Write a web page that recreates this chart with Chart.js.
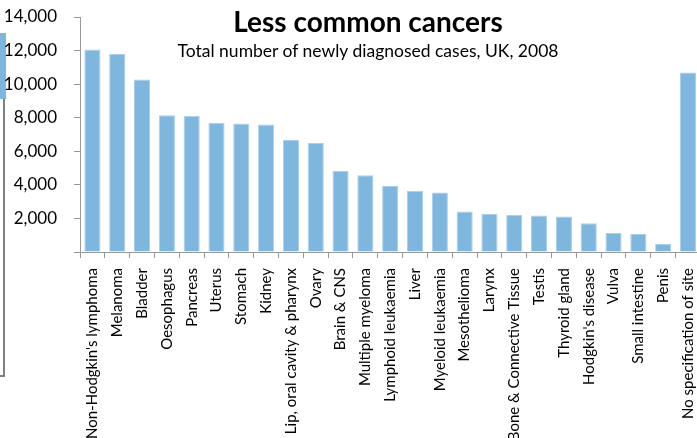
<!DOCTYPE html>
<html>
<head>
<meta charset="utf-8">
<script src="https://cdn.jsdelivr.net/npm/chart.js@4"></script>
<style>
  html, body { margin: 0; padding: 0; background: #fff; overflow: hidden; }
  body { width: 697px; height: 438px; position: relative; font-family: Lato, "Open Sans", sans-serif; }
  #chartCanvas { position: absolute; left: -20px; top: 0; }
  .title { position: absolute; left: 168px; width: 400px; text-align: center; color: #000; white-space: nowrap; }
  #t1 { top: 4px; font-size: 28px; font-weight: bold; }
  #t2 { top: 40px; font-size: 17.5px; }
  #legendEdge { position: absolute; left: 0; top: 33px; width: 6px; height: 66px; background: #7eb6dd; }
  #frameEdge { position: absolute; left: 3px; top: 99px; width: 2px; height: 278px; background: #808080; }
  #frameFoot { position: absolute; left: 0; top: 375px; width: 5px; height: 2px; background: #808080; }
</style>
</head>
<body>
<div id="legendEdge"></div>
<div id="frameEdge"></div>
<div id="frameFoot"></div>
<canvas id="chartCanvas" width="736" height="438"></canvas>
<div class="title" id="t1">Less common cancers</div>
<div class="title" id="t2">Total number of newly diagnosed cases, UK, 2008</div>
<script>
const sites = [
  "Non-Hodgkin's lymphoma", "Melanoma", "Bladder", "Oesophagus", "Pancreas",
  "Uterus", "Stomach", "Kidney", "Lip, oral cavity & pharynx", "Ovary",
  "Brain & CNS", "Multiple myeloma", "Lymphoid leukaemia", "Liver",
  "Myeloid leukaemia", "Mesothelioma", "Larynx", "Bone & Connective Tissue",
  "Testis", "Thyroid gland", "Hodgkin's disease", "Vulva", "Small intestine",
  "Penis", "No specification of site"
];
const cases = [
  12070, 11800, 10280, 8150, 8110,
  7700, 7660, 7600, 6670, 6490,
  4820, 4570, 3930, 3630,
  3550, 2420, 2260, 2200,
  2180, 2120, 1710, 1130, 1070,
  480, 10700
];
const yTicks = [0, 2000, 4000, 6000, 8000, 10000, 12000, 14000];

const ctx = document.getElementById('chartCanvas').getContext('2d');
new Chart(ctx, {
  type: 'bar',
  data: {
    labels: sites,
    datasets: [{
      data: cases,
      backgroundColor: '#7eb6dd',
      borderColor: '#a9cfea',
      borderWidth: { top: 1, left: 1, right: 1, bottom: 0 },
      categoryPercentage: 1,
      barPercentage: 0.65
    }]
  },
  options: {
    responsive: false,
    animation: false,
    devicePixelRatio: 1,
    layout: { padding: { top: 17, right: 1, left: 0, bottom: 0 } },
    plugins: { legend: { display: false }, tooltip: { enabled: false } },
    scales: {
      x: {
        offset: true,
        grid: { display: true, offset: true, drawOnChartArea: false, color: '#999', tickLength: 6 },
        border: { color: '#999', width: 1 },
        ticks: {
          autoSkip: false, minRotation: 90, maxRotation: 90, padding: 10,
          color: '#000', font: { family: 'Lato', size: 15 }
        },
        afterFit: s => { s.height = 186; s.paddingTop = 0; s.paddingBottom = 0; }
      },
      y: {
        min: 0, max: 14000,
        afterBuildTicks: s => { s.ticks = yTicks.map(v => ({ value: v })); },
        grid: { display: true, drawOnChartArea: false, color: '#999', tickLength: 6 },
        border: { color: '#999', width: 1 },
        ticks: {
          padding: 17, color: '#000', font: { family: 'Lato', size: 17 },
          callback: v => v === 0 ? '' : v.toLocaleString('en-GB')
        },
        afterFit: s => { s.width = 100; s.paddingTop = 0; s.paddingBottom = 0; }
      }
    }
  }
});
</script>
</body>
</html>
